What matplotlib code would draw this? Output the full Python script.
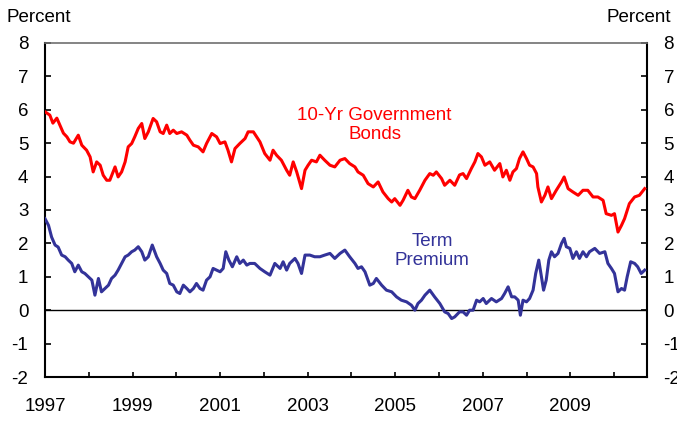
import matplotlib
matplotlib.use("Agg")
import matplotlib.pyplot as plt
from matplotlib.ticker import MultipleLocator, FixedLocator

plt.rcParams["font.family"] = ["Liberation Sans", "DejaVu Sans"]
plt.rcParams["axes.unicode_minus"] = False

# 10-yr government bond yield (decimal year, percent)
bond_x = [1997.00, 1997.11, 1997.18, 1997.27, 1997.34, 1997.42, 1997.50, 1997.57, 1997.65, 1997.76,
          1997.84, 1997.95, 1998.03, 1998.10, 1998.18, 1998.26, 1998.33, 1998.41, 1998.48, 1998.60,
          1998.67, 1998.75, 1998.83, 1998.90, 1998.98, 1999.05, 1999.13, 1999.21, 1999.28, 1999.36,
          1999.47, 1999.55, 1999.63, 1999.70, 1999.78, 1999.85, 1999.93, 2000.01, 2000.12, 2000.24,
          2000.31, 2000.39, 2000.50, 2000.61, 2000.69, 2000.81, 2000.92, 2001.00, 2001.11, 2001.18,
          2001.26, 2001.34, 2001.45, 2001.57, 2001.64, 2001.76, 2001.91, 2002.02, 2002.14, 2002.21,
          2002.29, 2002.40, 2002.52, 2002.59, 2002.67, 2002.75, 2002.86, 2002.94, 2003.01, 2003.09,
          2003.20, 2003.28, 2003.39, 2003.51, 2003.62, 2003.74, 2003.85, 2003.96, 2004.08, 2004.15,
          2004.27, 2004.38, 2004.50, 2004.61, 2004.72, 2004.84, 2004.92, 2004.99, 2005.11, 2005.18,
          2005.29, 2005.37, 2005.45, 2005.56, 2005.68, 2005.79, 2005.87, 2005.94, 2006.06, 2006.13,
          2006.25, 2006.36, 2006.47, 2006.55, 2006.63, 2006.74, 2006.82, 2006.89, 2006.97, 2007.05,
          2007.16, 2007.27, 2007.39, 2007.46, 2007.54, 2007.62, 2007.69, 2007.77, 2007.84, 2007.92,
          2008.00, 2008.07, 2008.15, 2008.23, 2008.26, 2008.34, 2008.42, 2008.49, 2008.57, 2008.68,
          2008.80, 2008.86, 2008.95, 2009.06, 2009.18, 2009.29, 2009.40, 2009.52, 2009.63, 2009.75,
          2009.82, 2009.94, 2010.01, 2010.09, 2010.17, 2010.24, 2010.35, 2010.47, 2010.58, 2010.70]
bond_y = [5.94, 5.84, 5.60, 5.75, 5.54, 5.30, 5.19, 5.04, 5.00, 5.24,
          4.94, 4.79, 4.59, 4.14, 4.44, 4.34, 4.04, 3.89, 3.89, 4.29,
          3.99, 4.14, 4.44, 4.89, 4.99, 5.19, 5.44, 5.59, 5.14, 5.34,
          5.74, 5.64, 5.34, 5.29, 5.54, 5.29, 5.39, 5.29, 5.34, 5.24,
          5.09, 4.94, 4.89, 4.74, 4.99, 5.29, 5.19, 4.99, 5.04, 4.79,
          4.44, 4.84, 4.99, 5.14, 5.34, 5.34, 5.04, 4.69, 4.49, 4.79,
          4.64, 4.49, 4.19, 4.04, 4.44, 4.14, 3.64, 4.19, 4.34, 4.49,
          4.44, 4.64, 4.49, 4.34, 4.29, 4.49, 4.54, 4.39, 4.29, 4.14,
          4.04, 3.79, 3.69, 3.84, 3.54, 3.34, 3.24, 3.34, 3.14, 3.29,
          3.59, 3.39, 3.34, 3.59, 3.89, 4.09, 4.04, 4.14, 3.94, 3.74,
          3.89, 3.74, 4.05, 4.09, 3.94, 4.24, 4.44, 4.69, 4.59, 4.34,
          4.44, 4.19, 4.39, 3.99, 4.19, 3.89, 4.14, 4.24, 4.54, 4.74,
          4.54, 4.34, 4.29, 4.09, 3.69, 3.24, 3.44, 3.69, 3.34, 3.59,
          3.84, 3.99, 3.64, 3.54, 3.44, 3.59, 3.59, 3.39, 3.39, 3.29,
          2.89, 2.84, 2.89, 2.34, 2.54, 2.74, 3.19, 3.39, 3.44, 3.64]

# term premium (decimal year, percent)
term_x = [1997.00, 1997.08, 1997.15, 1997.23, 1997.30, 1997.38, 1997.46, 1997.53, 1997.61, 1997.68,
          1997.76, 1997.84, 1997.91, 1997.99, 1998.07, 1998.14, 1998.22, 1998.29, 1998.37, 1998.45,
          1998.52, 1998.60, 1998.67, 1998.75, 1998.83, 1998.90, 1998.98, 1999.05, 1999.13, 1999.21,
          1999.28, 1999.36, 1999.45, 1999.55, 1999.63, 1999.70, 1999.78, 1999.85, 1999.93, 2000.01,
          2000.08, 2000.16, 2000.24, 2000.31, 2000.39, 2000.46, 2000.54, 2000.61, 2000.69, 2000.77,
          2000.84, 2000.92, 2001.00, 2001.07, 2001.13, 2001.20, 2001.28, 2001.38, 2001.45, 2001.53,
          2001.61, 2001.68, 2001.79, 2001.91, 2002.02, 2002.14, 2002.25, 2002.37, 2002.44, 2002.52,
          2002.59, 2002.71, 2002.78, 2002.86, 2002.94, 2003.05, 2003.16, 2003.28, 2003.39, 2003.51,
          2003.62, 2003.74, 2003.85, 2003.96, 2004.08, 2004.15, 2004.23, 2004.31, 2004.42, 2004.50,
          2004.57, 2004.69, 2004.80, 2004.92, 2005.03, 2005.14, 2005.26, 2005.37, 2005.45, 2005.52,
          2005.60, 2005.68, 2005.79, 2005.90, 2006.02, 2006.13, 2006.21, 2006.29, 2006.36, 2006.47,
          2006.55, 2006.63, 2006.70, 2006.78, 2006.86, 2006.93, 2007.01, 2007.08, 2007.20, 2007.31,
          2007.43, 2007.50, 2007.58, 2007.66, 2007.73, 2007.81, 2007.86, 2007.92, 2008.00, 2008.07,
          2008.15, 2008.21, 2008.28, 2008.34, 2008.39, 2008.45, 2008.51, 2008.57, 2008.64, 2008.72,
          2008.80, 2008.86, 2008.91, 2008.99, 2009.06, 2009.14, 2009.21, 2009.29, 2009.37, 2009.44,
          2009.56, 2009.67, 2009.79, 2009.86, 2009.94, 2010.01, 2010.09, 2010.17, 2010.24, 2010.30,
          2010.38, 2010.47, 2010.54, 2010.62, 2010.70]
term_y = [2.74, 2.54, 2.19, 1.95, 1.89, 1.65, 1.60, 1.50, 1.40, 1.15,
          1.35, 1.15, 1.10, 1.00, 0.90, 0.45, 0.95, 0.55, 0.65, 0.75,
          0.95, 1.05, 1.20, 1.40, 1.60, 1.65, 1.75, 1.80, 1.90, 1.75,
          1.50, 1.60, 1.95, 1.60, 1.40, 1.20, 1.10, 0.80, 0.75, 0.55,
          0.50, 0.75, 0.65, 0.55, 0.65, 0.80, 0.65, 0.60, 0.90, 1.00,
          1.25, 1.20, 1.15, 1.25, 1.75, 1.50, 1.30, 1.60, 1.40, 1.50,
          1.35, 1.40, 1.40, 1.25, 1.15, 1.05, 1.40, 1.25, 1.45, 1.20,
          1.40, 1.55, 1.40, 1.10, 1.65, 1.65, 1.60, 1.60, 1.65, 1.70,
          1.55, 1.70, 1.80, 1.60, 1.40, 1.25, 1.30, 1.15, 0.75, 0.80,
          0.95, 0.75, 0.60, 0.55, 0.40, 0.30, 0.25, 0.15, 0.00, 0.20,
          0.30, 0.45, 0.60, 0.40, 0.20, -0.05, -0.10, -0.25, -0.20, -0.05,
          -0.05, -0.15, 0.00, 0.00, 0.30, 0.25, 0.35, 0.20, 0.35, 0.25,
          0.35, 0.50, 0.70, 0.40, 0.40, 0.30, -0.15, 0.30, 0.25, 0.35,
          0.60, 1.10, 1.50, 1.00, 0.60, 0.90, 1.50, 1.75, 1.60, 1.70,
          2.00, 2.15, 1.90, 1.85, 1.55, 1.75, 1.55, 1.75, 1.60, 1.75,
          1.85, 1.70, 1.75, 1.40, 1.25, 1.10, 0.55, 0.65, 0.60, 1.00,
          1.45, 1.40, 1.30, 1.10, 1.20]

RED = "#ff0000"
BLUE = "#333399"

fig = plt.figure(figsize=(6.77, 4.21), dpi=100)
ax = fig.add_axes([0.0665, 0.1045, 0.889, 0.7934])

ax.plot(bond_x, bond_y, color=RED, lw=2.2, zorder=3)
ax.plot(term_x, term_y, color=BLUE, lw=2.2, zorder=3)
ax.axhline(0, color="black", lw=1.0, zorder=2)

ax.set_xlim(1997, 2010.75)
ax.set_ylim(-2, 8)
ax.yaxis.set_major_locator(MultipleLocator(1))
ax.xaxis.set_major_locator(FixedLocator(list(range(1997, 2011, 2))))
ax.xaxis.set_minor_locator(FixedLocator(list(range(1998, 2011, 2))))
ax.set_xticklabels([str(y) for y in range(1997, 2011, 2)])

ax.tick_params(axis="y", which="both", direction="in", length=4, width=1.2,
               left=True, right=True, labelleft=True, labelright=True,
               labelsize=13.5, pad=12)
ax.tick_params(axis="x", which="both", direction="in", length=3.5, width=1.2,
               labelsize=13.5, pad=15)

for side in ("left", "right", "bottom"):
    ax.spines[side].set_linewidth(1.5)
    ax.spines[side].set_color("black")
ax.spines["top"].set_linewidth(1.2)
ax.spines["top"].set_color("#707070")

ax.text(2004.53, 5.54, "10-Yr Government\nBonds", color=RED, fontsize=13.5,
        ha="center", va="center", linespacing=1.15)
ax.text(2005.84, 1.77, "Term\nPremium", color=BLUE, fontsize=13.5,
        ha="center", va="center", linespacing=1.15)

fig.text(0.009, 0.958, "Percent", fontsize=13.5, ha="left", va="center")
fig.text(0.991, 0.958, "Percent", fontsize=13.5, ha="right", va="center")

fig.savefig("out.png", dpi=100)
